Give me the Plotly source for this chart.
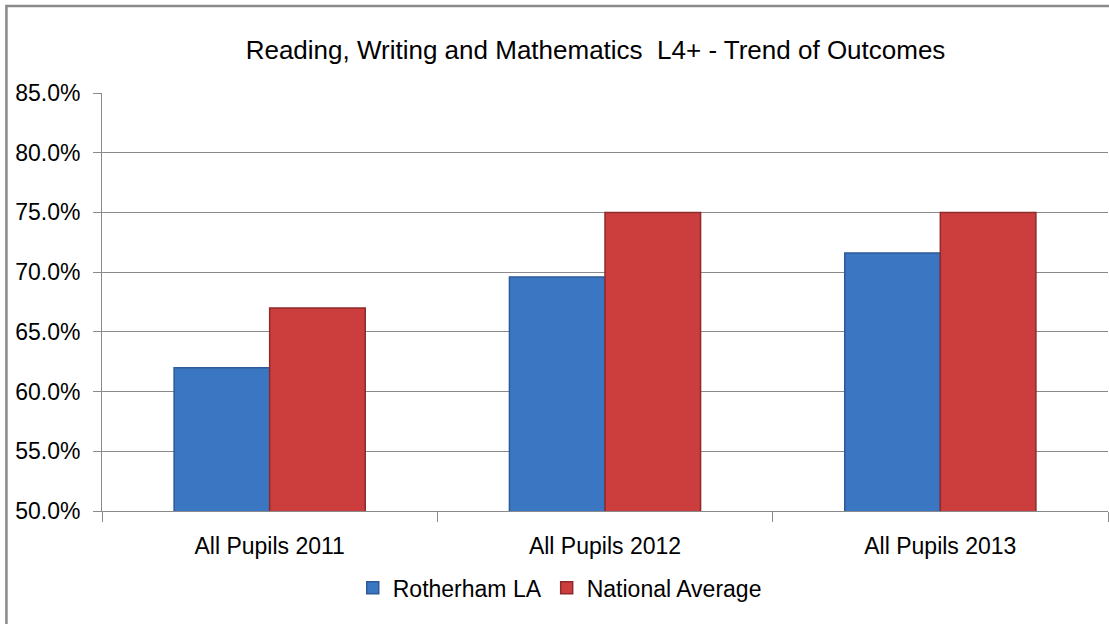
import plotly.graph_objects as go

categories = ['All Pupils 2011', 'All Pupils 2012', 'All Pupils 2013']
rotherham = [62.0, 69.6, 71.6]
national = [67.0, 75.0, 75.0]
y_ticks = [50, 55, 60, 65, 70, 75, 80, 85]
y_labels = ['%.1f%%' % v for v in y_ticks]

font_name = 'Liberation Sans, Arial'

fig = go.Figure()
fig.add_trace(go.Bar(
    x=categories, y=rotherham, name='Rotherham LA', base=0,
    marker=dict(color='#3B76C2', line=dict(color='#2C5A96', width=1.5)),
))
fig.add_trace(go.Bar(
    x=categories, y=national, name='National Average', base=0,
    marker=dict(color='#CC3E3E', line=dict(color='#8E2A2A', width=1.5)),
))

fig.update_layout(
    width=1109, height=624,
    paper_bgcolor='white', plot_bgcolor='white',
    margin=dict(l=102, r=1, t=93, b=113),
    barmode='group', bargap=0.43, bargroupgap=0,
    font=dict(family=font_name, color='#000000', size=22),
    title=dict(text='Reading, Writing and Mathematics  L4+ - Trend of Outcomes',
               x=0.537, xanchor='center', y=0.92, yanchor='middle',
               font=dict(size=26, family=font_name)),
    legend=dict(orientation='h', x=0.455, xanchor='center', y=-0.184, yanchor='middle',
                font=dict(size=23), itemwidth=30, tracegroupgap=0),
    showlegend=True,
)
fig.update_yaxes(range=[50, 85], tickvals=y_ticks, ticktext=y_labels,
                 showgrid=True, gridcolor='#8A8A8A', gridwidth=1,
                 showline=True, linecolor='#8A8A8A', linewidth=1,
                 ticks='outside', ticklen=8, tickcolor='#8A8A8A',
                 zeroline=False, tickfont=dict(size=23), ticklabelstandoff=8)
fig.update_xaxes(showline=True, linecolor='#8A8A8A', linewidth=1,
                 ticks='outside', ticklen=10, tickcolor='#8A8A8A',
                 tickson='boundaries', tickfont=dict(size=23), ticklabelstandoff=14)

# outer chart frame (only top and left edges visible in the crop)
fig.add_shape(type='rect', xref='paper', yref='paper',
              x0=-0.095, x1=1.2, y0=-0.3, y1=1.208,
              line=dict(color='#8A8A8A', width=2.5), layer='below')

fig.write_html('out.html', config={'displayModeBar': False},
               post_script="document.body.style.margin='0';")
